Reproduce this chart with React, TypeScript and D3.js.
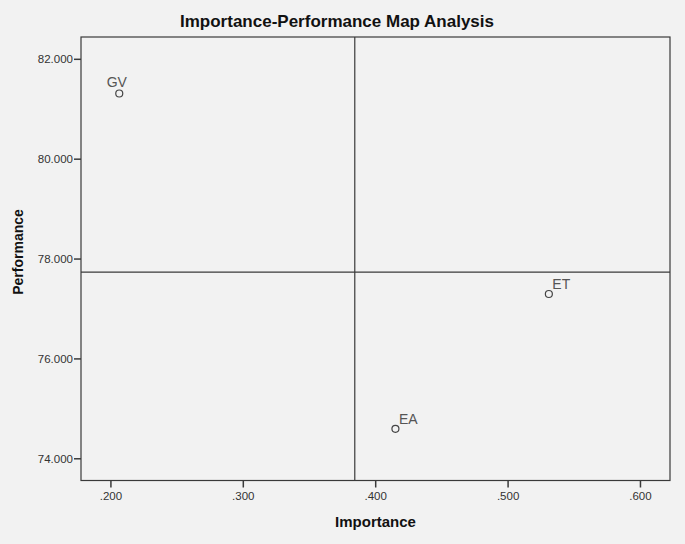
import React from "react";
import * as d3 from "d3";

const labels = ["GV", "ET", "EA"];
const importance = [0.2063, 0.5308, 0.4149];
const performance = [81.315, 77.3, 74.6];
const xTicks = [0.2, 0.3, 0.4, 0.5, 0.6];
const yTicks = [74, 76, 78, 80, 82];
const meanImportance = 0.3842;
const meanPerformance = 77.739;
const title = "Importance-Performance Map Analysis";
const xTitle = "Importance";
const yTitle = "Performance";

const W = 685;
const H = 544;
const L = 81, R = 670, T = 37, B = 480.5;

export default function App() {
  const x = d3.scaleLinear().domain([0.1774, 0.6223]).range([L, R]);
  const y = d3.scaleLinear().domain([73.565, 82.447]).range([B, T]);
  const fmtX = (v: number) => d3.format(".3f")(v).replace(/^0/, "");
  const fmtY = d3.format(".3f");
  const font = "'Liberation Sans', Arial, sans-serif";
  const ink = "#3a3a3a";
  return (
    <svg width={W} height={H} style={{ position: "absolute", left: 0, top: 0, background: "#f2f2f2" }} fontFamily={font}>
      <rect x={0} y={0} width={W} height={H} fill="#f2f2f2" />
      <text x={337} y={27} textAnchor="middle" fontSize={17} fontWeight="bold" fill="#111">{title}</text>
      <rect x={L} y={T} width={R - L} height={B - T} fill="#f2f2f2" stroke={ink} strokeWidth={1.2} />
      {yTicks.map((t) => (
        <g key={"y" + t}>
          <line x1={L - 7} x2={L} y1={y(t)} y2={y(t)} stroke={ink} strokeWidth={1.5} />
          <text x={L - 8} y={y(t)} dy="0.35em" textAnchor="end" fontSize={11.5} fill="#333">{fmtY(t)}</text>
        </g>
      ))}
      {xTicks.map((t) => (
        <g key={"x" + t}>
          <line x1={x(t)} x2={x(t)} y1={B} y2={B + 7} stroke={ink} strokeWidth={1.5} />
          <text x={x(t)} y={B + 19} textAnchor="middle" fontSize={11.5} fill="#333">{fmtX(t)}</text>
        </g>
      ))}
      <line x1={x(meanImportance)} x2={x(meanImportance)} y1={T} y2={B} stroke={ink} strokeWidth={1.2} />
      <line x1={L} x2={R} y1={y(meanPerformance)} y2={y(meanPerformance)} stroke={ink} strokeWidth={1.2} />
      {labels.map((lab, i) => {
        const cx = x(importance[i]);
        const cy = y(performance[i]);
        const centered = cx - L < 50;
        return (
          <g key={lab}>
            <circle cx={cx} cy={cy} r={3.5} fill="none" stroke="#444" strokeWidth={1.2} />
            <text
              x={centered ? cx - 2.5 : cx + 3.5}
              y={centered ? cy - 7 : cy - 5}
              textAnchor={centered ? "middle" : "start"}
              fontSize={14}
              fill="#555"
            >{lab}</text>
          </g>
        );
      })}
      <text x={(L + R) / 2} y={527} textAnchor="middle" fontSize={15} fontWeight="bold" fill="#111">{xTitle}</text>
      <text transform={`translate(23, 252) rotate(-90)`} textAnchor="middle" fontSize={14} fontWeight="bold" fill="#111">{yTitle}</text>
    </svg>
  );
}
